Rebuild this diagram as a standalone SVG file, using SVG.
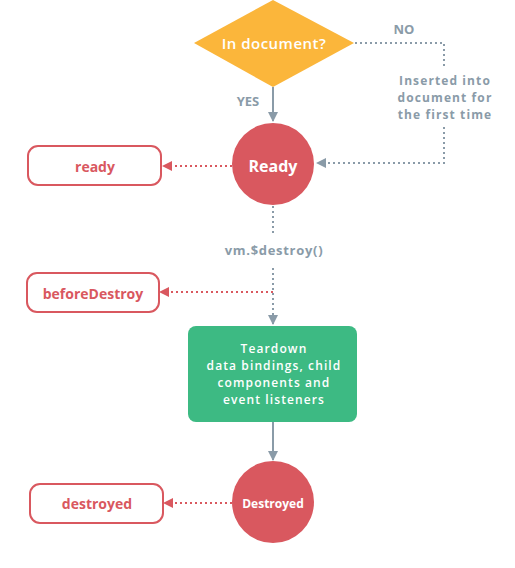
<svg xmlns="http://www.w3.org/2000/svg" width="515" height="568" viewBox="0 0 515 568">
<style>
text{font-family:"Open Sans","Liberation Sans",sans-serif;font-weight:700;text-anchor:middle;dominant-baseline:central}
.w{fill:#fff}
.g{fill:#8a9ba8;font-size:13px}
.gs{fill:#8a9ba8;font-size:12px;letter-spacing:1.1px}
.t{fill:#fff;font-size:12px;font-weight:600;letter-spacing:1.1px}
.r{fill:#d9585f;font-size:14px}
.hook{fill:#fff;stroke:#d9585f;stroke-width:2}
.dg{fill:none;stroke:#8a9ba8;stroke-width:2;stroke-dasharray:2 3}
.dr{fill:none;stroke:#d9585f;stroke-width:2;stroke-dasharray:2 3}
.sg{fill:none;stroke:#8a9ba8;stroke-width:2}
</style>
<defs>
<marker id="ag" viewBox="0 0 10 10" refX="9" refY="5" markerWidth="5" markerHeight="5" orient="auto"><path d="M0,0L10,5L0,10z" fill="#8a9ba8"/></marker>
<marker id="ar" viewBox="0 0 10 10" refX="9" refY="5" markerWidth="5" markerHeight="5" orient="auto"><path d="M0,0L10,5L0,10z" fill="#d9585f"/></marker>
</defs>
<g id="connectors">
<path class="sg" d="M273,87V121" marker-end="url(#ag)"/>
<path class="dg" d="M355,43H444V66"/>
<path class="dg" d="M444,127V163H317" marker-end="url(#ag)"/>
<path class="dr" d="M232,166H163" marker-end="url(#ar)"/>
<path class="dg" d="M273,206V233"/>
<path class="dg" d="M273,268V324" marker-end="url(#ag)"/>
<path class="dr" d="M273,292H160" marker-end="url(#ar)"/>
<path class="sg" d="M273,422V460" marker-end="url(#ag)"/>
<path class="dr" d="M232,503H164" marker-end="url(#ar)"/>
<text class="g" x="404" y="29">NO</text>
<text class="g" x="248" y="101">YES</text>
<text class="gs" x="445" y="80">Inserted into</text>
<text class="gs" x="445" y="97">document for</text>
<text class="gs" x="445" y="114">the first time</text>
<text class="g" x="274" y="250" style="letter-spacing:0.7px">vm.$destroy()</text>
</g>
<g id="in-document">
<path d="M273,0L354,43L273,87L194,43z" fill="#fbb63b"/>
<text class="w" x="274" y="43" style="font-size:15px;font-weight:600;letter-spacing:0.5px">In document?</text>
</g>
<g id="ready-node">
<circle cx="273" cy="164" r="41" fill="#d9585f"/>
<text class="w" x="273" y="166" style="font-size:16px">Ready</text>
</g>
<g id="ready-hook">
<rect class="hook" x="28" y="146" width="133" height="39" rx="10"/>
<text class="r" x="95" y="166">ready</text>
</g>
<g id="beforeDestroy-hook">
<rect class="hook" x="27" y="273" width="132" height="39" rx="10"/>
<text class="r" x="93" y="293">beforeDestroy</text>
</g>
<g id="teardown">
<rect x="188" y="326" width="169" height="96" rx="8" fill="#3dba83"/>
<text class="t" x="274" y="348">Teardown</text>
<text class="t" x="274" y="365">data bindings, child</text>
<text class="t" x="274" y="382">components and</text>
<text class="t" x="274" y="399">event listeners</text>
</g>
<g id="destroyed-node">
<circle cx="273" cy="502" r="41" fill="#d9585f"/>
<text class="w" x="273" y="503" style="font-size:12px">Destroyed</text>
</g>
<g id="destroyed-hook">
<rect class="hook" x="30" y="484" width="133" height="39" rx="10"/>
<text class="r" x="97" y="503">destroyed</text>
</g>
</svg>
